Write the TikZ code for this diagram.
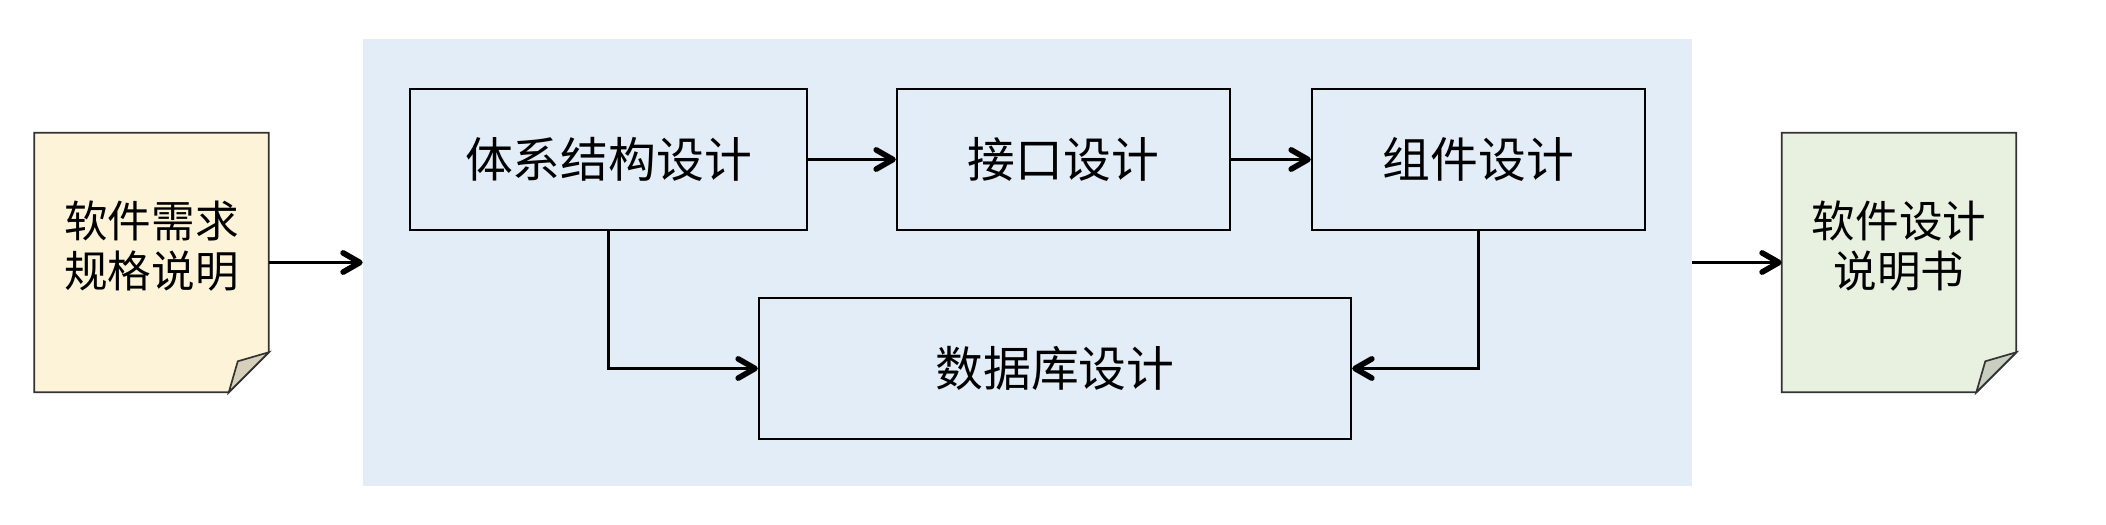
\documentclass[tikz,border=0pt]{standalone}
\usepackage{fontspec}
\setmainfont{Noto Sans CJK SC}
\usepackage{tikz}
\usetikzlibrary{arrows.meta,%
                positioning}

\definecolor{panelblue}{RGB}{227,237,247}
\definecolor{reqyellow}{RGB}{252,243,216}
\definecolor{reqfold}{RGB}{214,207,186}
\definecolor{specgreen}{RGB}{232,240,224}
\definecolor{specfold}{RGB}{200,206,192}

\begin{document}
\begin{tikzpicture}[
  box/.style={draw, line width=1.7pt, minimum height=3.525cm, inner sep=0pt,
              font=\fontsize{34}{40}\selectfont},
  doc/.style={minimum width=5.85cm, minimum height=6.475cm, inner sep=0pt},
  docline/.style={draw=black!80, line width=1.2pt, line join=miter},
  doctext/.style={align=center, font=\fontsize{31}{35.6}\selectfont},
  link/.style={line width=1.5pt, -{Straight Barb[length=0.42cm,width=0.48cm,line width=4pt,round]}}]
\useasboundingbox (0,0) rectangle (52.65,13.1);
%\draw[red] (0,0) rectangle (52.65,13.1);
\node[fill=panelblue, minimum width=33.225cm, minimum height=11.175cm, inner sep=0pt] (panel) at (25.6875,6.5375) {};
% input and output documents
\node[doc] (req) at (3.7875,6.5375) {};
\node[doc] (spec) at (47.475,6.5375) {};
\draw[docline, fill=reqyellow] (req.north west) -- (req.north east) -- ([yshift=1cm]req.south east)
  -- ([xshift=-1cm]req.south east) -- (req.south west) -- cycle;
\draw[docline, fill=reqfold] ([yshift=1cm]req.south east) -- ([shift={(-0.775,0.775)}]req.south east)
  -- ([xshift=-1cm]req.south east) -- cycle;
\draw[docline, fill=specgreen] (spec.north west) -- (spec.north east) -- ([yshift=1cm]spec.south east)
  -- ([xshift=-1cm]spec.south east) -- (spec.south west) -- cycle;
\draw[docline, fill=specfold] ([yshift=1cm]spec.south east) -- ([shift={(-0.775,0.775)}]spec.south east)
  -- ([xshift=-1cm]spec.south east) -- cycle;
\node[doctext] (reqtext) at ([yshift=0.4cm]req.center) {软件需求\\规格说明};
\node[doctext] (spectext) at ([yshift=0.4cm]spec.center) {软件设计\\说明书};
% design steps
\node[box, minimum width=9.925cm] (arch) at (15.2125,9.1125) {体系结构设计};
\node[box, minimum width=8.325cm] (iface) at (26.5875,9.1125) {接口设计};
\node[box, minimum width=8.325cm] (comp) at (36.9625,9.1125) {组件设计};
\node[box, minimum width=14.8cm] (db) at (26.375,3.8875) {数据库设计};
\draw[link] (req.east) -- (panel.west);
\draw[link] (panel.east) -- (spec.west);
\draw[link] (arch) -- (iface);
\draw[link] (iface) -- (comp);
\draw[link] (arch.south) |- (db.west);
\draw[link] (comp.south) |- (db.east);
\end{tikzpicture}
\end{document}
